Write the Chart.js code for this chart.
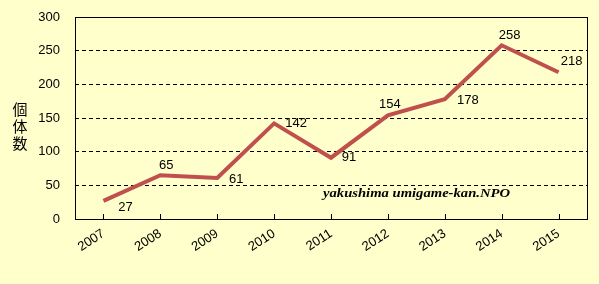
<!DOCTYPE html>
<html>
<head>
<meta charset="utf-8">
<script src="https://cdn.jsdelivr.net/npm/chart.js@4"></script>
<style>
  html, body { margin: 0; padding: 0; background: #ffffcc; }
  #wrap { width: 599px; height: 284px; }
</style>
</head>
<body>
<div id="wrap"><canvas id="lineChart" width="599" height="284"></canvas></div>
<script>
// データ
const years = ['2007', '2008', '2009', '2010', '2011', '2012', '2013', '2014', '2015'];
const counts = [27, 65, 61, 142, 91, 154, 178, 258, 218];
const yTicks = [0, 50, 100, 150, 200, 250, 300];

// ラベルのずらし量 (px)
const labelOffsets = [[22, 7], [6, -10], [19, 1], [22, 0], [18, 0], [2, -11], [23, 1], [8, -10], [13, -11]];

const labelFont = '13px "Liberation Sans", Arial, sans-serif';

// 背景・枠・目盛・ラベル
const decor = {
  id: 'decor',
  beforeDraw(chart) {
    const ctx = chart.ctx;
    ctx.save();
    ctx.fillStyle = '#ffffcc';
    ctx.fillRect(0, 0, chart.width, chart.height);
    ctx.restore();
  },
  afterDraw(chart) {
    const ctx = chart.ctx;
    const a = chart.chartArea;
    const xs = chart.scales.x;
    ctx.save();
    ctx.setLineDash([]);
    ctx.strokeStyle = '#000';
    ctx.lineWidth = 1;
    ctx.strokeRect(a.left + 0.5, a.top + 0.5, a.right - a.left, a.bottom - a.top);
    // x軸の目盛（内向き）
    ctx.beginPath();
    years.forEach((y, i) => {
      const px = Math.round(xs.getPixelForValue(i)) + 0.5;
      ctx.moveTo(px, a.bottom);
      ctx.lineTo(px, a.bottom - 5);
    });
    ctx.stroke();

    // データラベル
    const meta = chart.getDatasetMeta(0);
    ctx.fillStyle = '#000';
    ctx.font = labelFont;
    ctx.textAlign = 'center';
    ctx.textBaseline = 'middle';
    meta.data.forEach((pt, i) => {
      const off = labelOffsets[i];
      ctx.fillText(String(counts[i]), pt.x + off[0], pt.y + off[1]);
    });

    // 縦書きの軸タイトル
    ctx.font = '15px "Noto Sans CJK JP", sans-serif';
    ['個', '体', '数'].forEach((c, i) => {
      ctx.fillText(c, 20, 109 + i * 17);
    });

    // クレジット
    const credit = 'yakushima umigame-kan.NPO';
    ctx.font = 'italic bold 13px "Liberation Serif", serif';
    ctx.textAlign = 'left';
    ctx.textBaseline = 'alphabetic';
    const w = ctx.measureText(credit).width;
    ctx.translate(323, 197);
    ctx.scale(187 / w, 1);
    ctx.fillText(credit, 0, 0);
    ctx.restore();
  }
};

new Chart(document.getElementById('lineChart').getContext('2d'), {
  type: 'line',
  data: {
    labels: years,
    datasets: [{
      data: counts,
      borderColor: '#c0504d',
      borderWidth: 4,
      pointRadius: 0,
      tension: 0,
      fill: false,
    }],
  },
  options: {
    responsive: false,
    animation: false,
    events: [],
    layout: { padding: { top: 17, right: 12, left: 0, bottom: 0 } },
    plugins: {
      legend: { display: false },
      tooltip: { enabled: false },
    },
    scales: {
      x: {
        offset: true,
        grid: { display: false, drawTicks: false },
        border: { display: false },
        ticks: {
          color: '#000',
          font: { family: '"Liberation Sans", Arial, sans-serif', size: 13 },
          minRotation: 33,
          maxRotation: 33,
          padding: 7,
          autoSkip: false,
        },
        afterFit(scale) { scale.height = 65; },
      },
      y: {
        min: 0,
        max: 300,
        afterBuildTicks(scale) { scale.ticks = yTicks.map(v => ({ value: v })); },
        grid: {
          drawTicks: false,
          color: c => (c.tick && (c.tick.value === 0 || c.tick.value === 300)) ? 'rgba(0,0,0,0)' : '#000',
          lineWidth: 1,
        },
        border: { display: false, dash: [4, 3] },
        ticks: {
          color: '#000',
          font: { family: '"Liberation Sans", Arial, sans-serif', size: 13 },
          padding: 15,
        },
        afterFit(scale) {
          scale.width = 75;
          scale.paddingTop = 0;
          scale.paddingBottom = 0;
        },
      },
    },
  },
  plugins: [decor],
});
</script>
</body>
</html>
